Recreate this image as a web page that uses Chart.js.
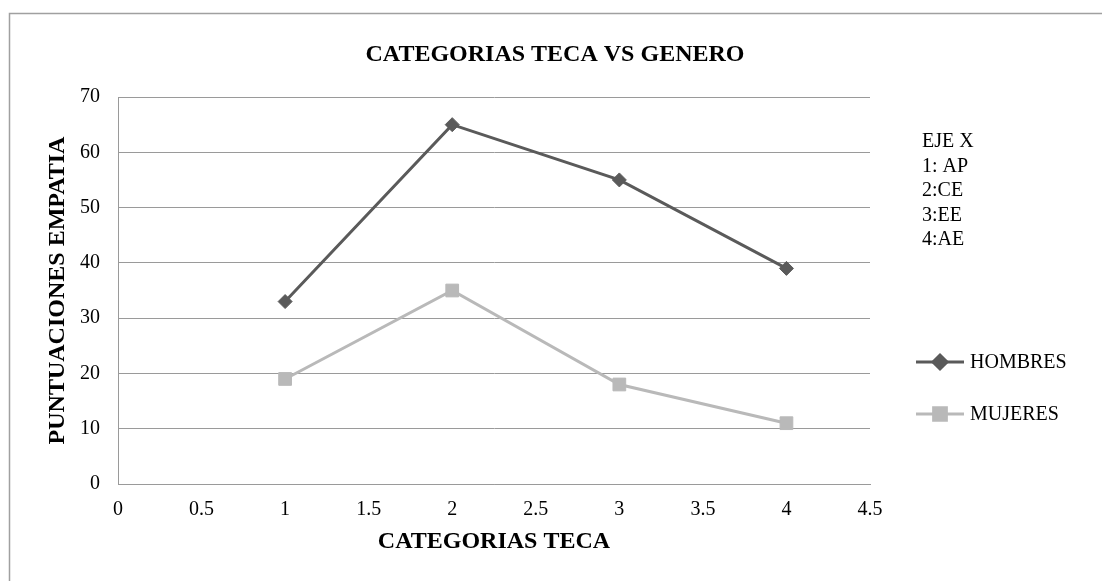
<!DOCTYPE html>
<html>
<head>
<meta charset="utf-8">
<title>CATEGORIAS TECA VS GENERO</title>
<script src="https://cdn.jsdelivr.net/npm/chart.js@4.4.0/dist/chart.umd.min.js"></script>
<style>
  html, body { margin: 0; padding: 0; background: #ffffff; }
  #wrap { width: 1102px; height: 581px; position: relative; }
</style>
</head>
<body>
<div id="wrap"><canvas id="chart" width="1102" height="581"></canvas></div>
<script>
// data
const categorias = [1, 2, 3, 4]
const hombres = [33, 65, 55, 39]
const mujeres = [19, 35, 18, 11]
const notaEjeX = ["EJE X", "1: AP", "2:CE", "3:EE", "4:AE"]
const serif = "'Liberation Serif', 'Times New Roman', serif"

const toPoints = (values) => categorias.map((c, i) => ({x: c, y: values[i]}))

// title, frame, legend and the EJE X note
const extras = {
    id: 'extras',
    beforeDraw: (chart) => {
        const ctx = chart.ctx
        ctx.save()
        ctx.strokeStyle = '#a0a0a0'
        ctx.lineWidth = 1.5
        ctx.beginPath()
        ctx.moveTo(9.5, 581)
        ctx.lineTo(9.5, 13.5)
        ctx.lineTo(1102, 13.5)
        ctx.stroke()
        ctx.restore()
    },
    afterDraw: (chart) => {
        const ctx = chart.ctx
        ctx.save()
        ctx.fillStyle = '#000000'
        ctx.textAlign = 'center'
        ctx.textBaseline = 'middle'
        ctx.font = `bold 24px ${serif}`
        ctx.fillText("CATEGORIAS TECA VS GENERO", 555, 55)

        ctx.textAlign = 'left'
        ctx.font = `20px ${serif}`
        notaEjeX.forEach((line, i) => ctx.fillText(line, 922, 142 + i * 24.5))

        const rows = [362, 414]
        chart.data.datasets.forEach((ds, i) => {
            const y = rows[i]
            ctx.strokeStyle = ds.borderColor
            ctx.lineWidth = ds.borderWidth
            ctx.beginPath()
            ctx.moveTo(916, y)
            ctx.lineTo(964, y)
            ctx.stroke()
            Chart.helpers.drawPoint(ctx, {
                pointStyle: ds.pointStyle,
                radius: ds.pointRadius,
                rotation: 0,
                borderWidth: 1
            }, 940, y)
            ctx.fillStyle = ds.pointBackgroundColor
            ctx.fill()
            ctx.fillStyle = '#000000'
            ctx.fillText(ds.label, 970, y + 1)
        })
        ctx.restore()
    }
}

const ctx = document.getElementById('chart').getContext('2d')
const myChart = new Chart(ctx, {
    type: 'scatter',
    data: {
        datasets: [{
            label: 'HOMBRES',
            data: toPoints(hombres),
            showLine: true,
            borderColor: '#5a5a5a',
            backgroundColor: '#5a5a5a',
            pointBackgroundColor: '#5a5a5a',
            pointBorderColor: '#5a5a5a',
            borderWidth: 3,
            pointStyle: 'rectRot',
            pointRadius: 7,
            pointBorderWidth: 1
        }, {
            label: 'MUJERES',
            data: toPoints(mujeres),
            showLine: true,
            borderColor: '#b9b9b9',
            backgroundColor: '#b9b9b9',
            pointBackgroundColor: '#b9b9b9',
            pointBorderColor: '#b9b9b9',
            borderWidth: 3,
            pointStyle: 'rect',
            pointRadius: 9,
            pointBorderWidth: 1
        }]
    },
    options: {
        responsive: false,
        animation: false,
        devicePixelRatio: 1,
        layout: {
            padding: {left: 0, top: 97, right: 232, bottom: 0}
        },
        plugins: {
            legend: {display: false},
            title: {display: false},
            tooltip: {enabled: false}
        },
        scales: {
            x: {
                type: 'linear',
                min: 0,
                max: 4.5,
                afterFit: (scale) => { scale.height = 97 },
                ticks: {
                    stepSize: 0.5,
                    padding: 14,
                    color: '#000000',
                    font: {family: serif, size: 20},
                    maxRotation: 0,
                    autoSkip: false,
                    callback: (value) => String(value)
                },
                grid: {display: false, drawTicks: false},
                border: {display: true, color: '#9a9a9a', width: 1},
                title: {
                    display: true,
                    text: 'CATEGORIAS TECA',
                    color: '#000000',
                    font: {family: serif, size: 24, weight: 'bold'},
                    padding: {top: 0, bottom: 25}
                }
            },
            y: {
                min: 0,
                max: 70,
                afterFit: (scale) => { scale.width = 118 },
                ticks: {
                    stepSize: 10,
                    padding: 18,
                    color: '#000000',
                    font: {family: serif, size: 20},
                    callback: (value) => String(value)
                },
                grid: {color: '#9a9a9a', lineWidth: 1, drawTicks: false},
                border: {display: true, color: '#9a9a9a', width: 1},
                title: {
                    display: true,
                    text: 'PUNTUACIONES EMPATIA',
                    color: '#000000',
                    font: {family: serif, size: 24, weight: 'bold'},
                    padding: {top: 43, bottom: 0}
                }
            }
        }
    },
    plugins: [extras]
})
</script>
</body>
</html>
